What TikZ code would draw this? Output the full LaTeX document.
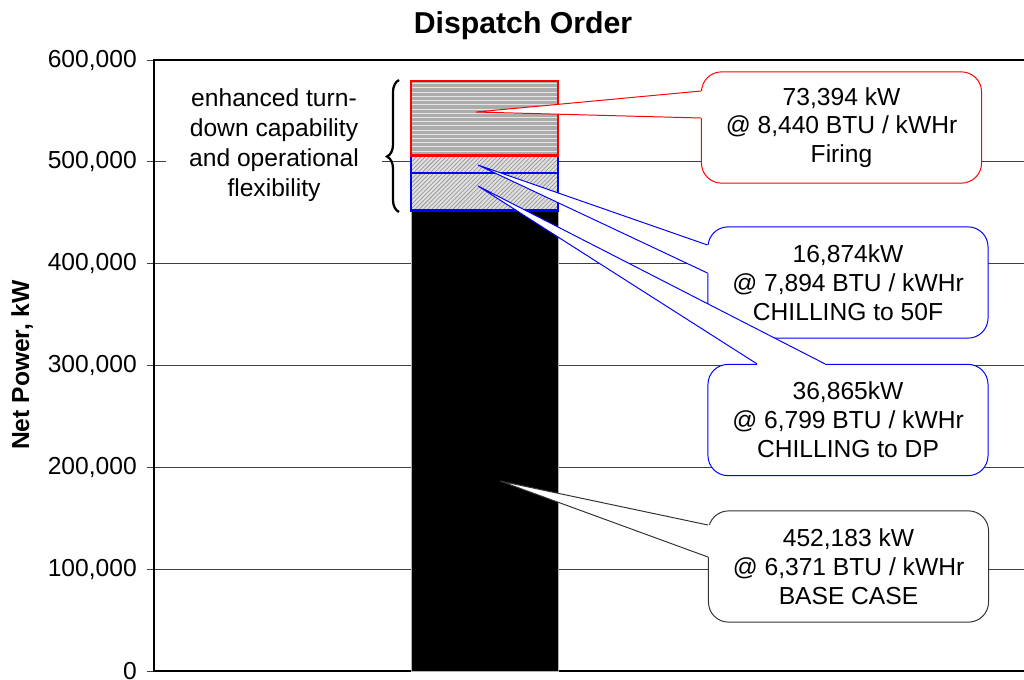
\documentclass[tikz,border=0pt]{standalone}
\usepackage{fontspec}
\setmainfont{Liberation Sans}
\usetikzlibrary{calc,patterns,decorations.pathreplacing}

\begin{document}
\begin{tikzpicture}[
    x=0.025cm, y=-0.025cm,
    txt/.style={font=\fontsize{17.5}{20.5}\selectfont, align=center},
    callout/.style={txt, draw, fill=white, line width=0.7pt,
      rounded corners=0.5cm, minimum width=7cm, minimum height=2.78cm,
      inner sep=0pt},
    tip/.style={line width=0.7pt, line join=miter},
    axis/.style={line width=2.1pt},
    grid/.style={line width=0.6pt, black!75},
    seg/.style={line width=2.1pt},
    chill/.style={seg, blue, preaction={fill=gray!25},
      pattern=north east lines, pattern color=gray!90},
  ]
  \useasboundingbox (0,0) rectangle (1024,679);

  % Title and axis label
  \node[font=\fontsize{21.5}{26}\selectfont\bfseries] (title) at (523,26)
    {Dispatch Order};
  \node[font=\fontsize{17.5}{20}\selectfont\bfseries, rotate=90] (ylab)
    at (22,365) {Net Power, kW};

  % Grid, ticks and scale
  \foreach \v in {1,...,5}
    \draw[grid] (154,{671-101.833*\v}) -- (1024,{671-101.833*\v});
  \foreach \v in {0,...,6} {
    \draw[grid] (147,{671-101.833*\v}) -- (154,{671-101.833*\v});
    \node[txt, anchor=east, inner sep=0pt] (tick\v) at (137,{671-101.833*\v})
      {\ifnum\v=0 0\else\v00,000\fi};
  }
  \draw[axis] (1024,60) -- (154,60) -- (154,671) -- (1024,671);

  % Stacked bar
  \draw[gray!60, fill=black] (411,210.5) rectangle (558,671);
  \draw[chill] (411,173) rectangle (558,210.5);
  \draw[chill] (411,155.8) rectangle (558,173);
  \draw[seg, red, preaction={fill=gray!65},
    pattern=horizontal lines, pattern color=gray!20]
    (411,81) rectangle (558,155.8);

  % Note on the upper segments
  \node[font=\fontsize{17.5}{21.3}\selectfont, align=center, fill=white,
    minimum width=5.4cm, inner sep=1pt] (flex) at (274,145)
    {enhanced turn-\\down capability\\and operational\\flexibility};
  \draw[line width=1.6pt, decorate,
    decoration={brace, amplitude=0.3cm, aspect=0.42}] (399,212) -- (399,80);

  % Callout: firing
  \node[callout, draw=red] (cFire) at (841.5,127.5)
    {73,394 kW\\@ 8,440 BTU / kWHr\\Firing};
  \coordinate (tFire) at (476,112);
  \coordinate (fireA) at ($(cFire.west)+(0,-36.5)$);
  \coordinate (fireB) at ($(cFire.west)+(0,-9.5)$);
  \fill[white] (fireA) -- (tFire) -- (fireB) -- ($(fireB)+(4,0)$)
    -- ($(fireA)+(4,0)$) -- cycle;
  \draw[tip, red] (fireA) -- (tFire) -- (fireB);

  % Callout: chilling to 50F
  \node[callout, draw=blue] (cChill) at (848,282.5)
    {16,874kW\\@ 7,894 BTU / kWHr\\CHILLING to 50F};
  \coordinate (tChill) at (478,165);
  \coordinate (chillA) at ($(cChill.west)+(0,-37.5)$);
  \coordinate (chillB) at ($(cChill.west)+(0,-9.5)$);
  \fill[white] (chillA) -- (tChill) -- (chillB) -- ($(chillB)+(4,0)$)
    -- ($(chillA)+(4,0)$) -- cycle;
  \draw[tip, blue] (chillA) -- (tChill) -- (chillB);

  % Callout: chilling to DP
  \node[callout, draw=blue] (cDew) at (848,420)
    {36,865kW\\@ 6,799 BTU / kWHr\\CHILLING to DP};
  \coordinate (tDew) at (478,186);
  \coordinate (dewA) at ($(cDew.north)+(-91,0)$);
  \coordinate (dewB) at ($(cDew.north)+(-23,0)$);
  \fill[white] (dewA) -- (tDew) -- (dewB) -- ($(dewB)+(0,4)$)
    -- ($(dewA)+(0,4)$) -- cycle;
  \draw[tip, blue] (dewA) -- (tDew) -- (dewB);

  % Callout: base case
  \node[callout, draw=black!80] (cBase) at (848.5,566.5)
    {452,183 kW\\@ 6,371 BTU / kWHr\\BASE CASE};
  \coordinate (tBase) at (500,481);
  \coordinate (baseA) at ($(cBase.west)+(0,-41.5)$);
  \coordinate (baseB) at ($(cBase.west)+(0,-9.5)$);
  \fill[white] (baseA) -- (tBase) -- (baseB) -- ($(baseB)+(4,0)$)
    -- ($(baseA)+(4,0)$) -- cycle;
  \draw[tip, black!80] (baseA) -- (tBase) -- (baseB);
\end{tikzpicture}
\end{document}
